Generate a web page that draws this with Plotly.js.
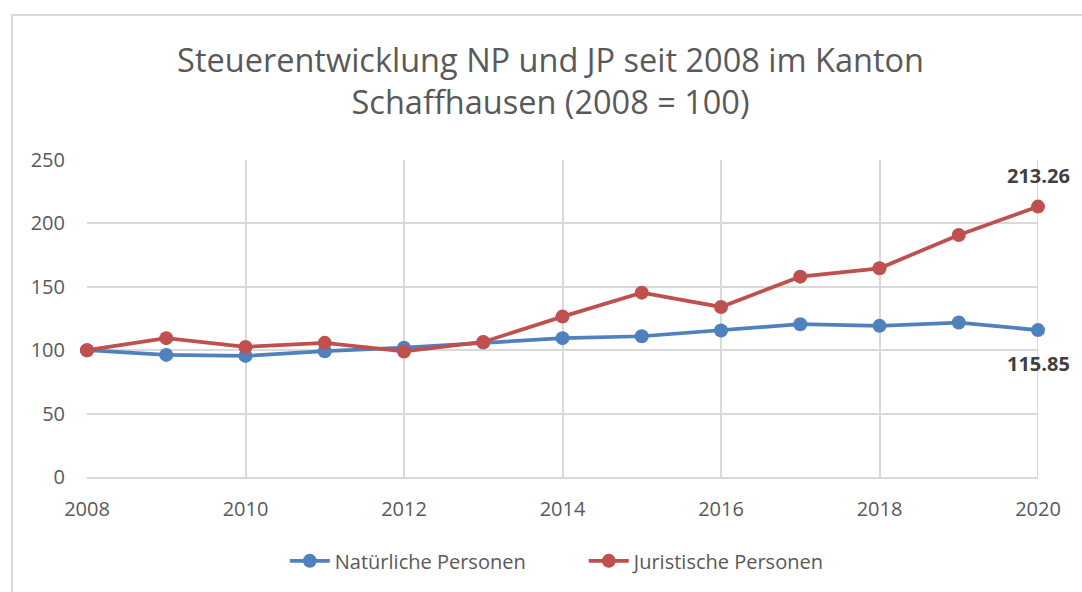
<!DOCTYPE html>
<html>
<head>
<meta charset="utf-8">
<script src="https://cdn.plot.ly/plotly-3.0.1.min.js"></script>
<style>
html,body{margin:0;padding:0;background:#fff;overflow:hidden;}
#frame{position:absolute;left:11px;top:14px;width:1200px;height:700px;border:2px solid #d9d9d9;box-sizing:border-box;}
#chart{position:absolute;left:0;top:0;width:1082px;height:592px;}
</style>
</head>
<body>
<div id="frame"></div>
<div id="chart"></div>
<script>
const years = [2008,2009,2010,2011,2012,2013,2014,2015,2016,2017,2018,2019,2020];
const natuerliche = [100,96.3,95.5,99.2,102,106,109.5,111,115.5,120.5,119.2,121.8,115.85];
const juristische = [100,109.5,102.6,105.8,99,106.5,126.5,145.4,134.1,158,164.6,190.9,213.26];
const seriesNames = ['Natürliche Personen','Juristische Personen'];
const xTicks = [2008,2010,2012,2014,2016,2018,2020];
const yTicks = [0,50,100,150,200,250];

const font = 'Open Sans, Lato, sans-serif';
const last = years.length - 1;

const traces = [
  {x:years,y:natuerliche,name:seriesNames[0],type:'scatter',mode:'lines+markers',
   line:{color:'#4f81bd',width:3.75},marker:{color:'#4f81bd',size:14},cliponaxis:false},
  {x:years,y:juristische,name:seriesNames[1],type:'scatter',mode:'lines+markers',
   line:{color:'#c0504d',width:3.75},marker:{color:'#c0504d',size:14},cliponaxis:false}
];

const labelFont = {family:font,size:20,color:'#404040',weight:700};

const layout = {
  width:1082,height:592,
  paper_bgcolor:'rgba(0,0,0,0)',plot_bgcolor:'rgba(0,0,0,0)',
  margin:{l:87,r:44,t:160,b:115,autoexpand:false},
  font:{family:font,color:'#595959',size:20},
  title:{text:'Steuerentwicklung NP und JP seit 2008 im Kanton<br>Schaffhausen (2008 = 100)',
    font:{family:font,size:32.5,color:'#595959'},x:0.5088,xanchor:'center',
    yref:'container',y:0.878,yanchor:'top'},
  xaxis:{range:[2008,2020],tickvals:xTicks,ticktext:xTicks.map(String),
    showgrid:true,gridcolor:'#d9d9d9',gridwidth:2,zeroline:false,
    showline:true,linecolor:'#d9d9d9',linewidth:2,ticks:'',ticklabelstandoff:13,
    tickfont:{family:font,size:20,color:'#595959'},fixedrange:true},
  yaxis:{range:[0,250],tickvals:yTicks,
    showgrid:true,gridcolor:'#d9d9d9',gridwidth:2,zeroline:false,
    showline:false,ticks:'',ticklabelstandoff:21,
    tickfont:{family:font,size:20,color:'#595959'},fixedrange:true},
  showlegend:true,
  legend:{orientation:'h',x:0.208,xanchor:'left',y:-0.203,yanchor:'top',
    font:{family:font,size:20,color:'#595959'},traceorder:'normal',itemwidth:40,
    entrywidth:244,entrywidthmode:'pixels'},
  annotations:[
    {x:years[last],y:juristische[last],text:juristische[last].toFixed(2),showarrow:false,
     xanchor:'center',yanchor:'middle',yshift:31,font:labelFont},
    {x:years[last],y:natuerliche[last],text:natuerliche[last].toFixed(2),showarrow:false,
     xanchor:'center',yanchor:'middle',yshift:-33,font:labelFont}
  ],
  shapes:[{type:'line',xref:'x',yref:'y',x0:2020,x1:2020,y0:0,y1:250,line:{color:'#d9d9d9',width:2},layer:'below'}]
};

Plotly.newPlot('chart',traces,layout,{displayModeBar:false,staticPlot:true});
</script>
</body>
</html>
